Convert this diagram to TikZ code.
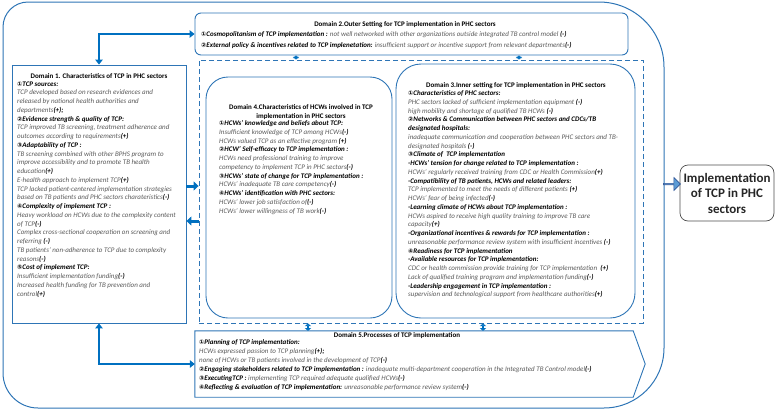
\documentclass[tikz,border=0pt]{standalone}
\usepackage{fontspec}
\setmainfont{Carlito}
\newfontfamily\circfont{DejaVu Sans}
\usetikzlibrary{arrows.meta,shapes.arrows}
\definecolor{lineblue}{HTML}{2E75B6}
\definecolor{arrblue}{HTML}{0070C0}
\definecolor{bodygray}{HTML}{595959}
\definecolor{blockfill}{HTML}{5B9BD5}
\definecolor{blockedge}{HTML}{2F5597}
\newcommand\cn[1]{{\circfont\fontsize{6.2}{6.2}\selectfont #1}}
\newcommand\hd[1]{{\color{black}\bfseries #1}}
\tikzset{
  bline/.style={draw=lineblue, line width=0.9pt},
  sqbox/.style={bline, rectangle, inner sep=0pt},
  rbox/.style={bline, rectangle, rounded corners=#1, inner sep=0pt},
  dbox/.style={draw=lineblue, line width=0.9pt, dash pattern=on 5pt off 3pt, rectangle, inner sep=0pt},
  ttl/.style={font=\fontsize{7}{8.75}\selectfont\bfseries, text=black, inner sep=0pt, align=center},
  body/.style={font=\fontsize{7}{8.75}\selectfont\itshape, text=bodygray, inner sep=0pt, align=left, anchor=north west},
  darr/.style={draw=arrblue, line width=2.2pt, {Triangle[length=5pt,width=7.5pt]}-{Triangle[length=5pt,width=7.5pt]}},
  sarr/.style={draw=arrblue, line width=1.8pt, {Triangle[length=2.6pt,width=6pt]}-{Triangle[length=2.6pt,width=6pt]}},
  harr/.style={draw=arrblue, line width=3pt, -{Triangle[length=5pt,width=9pt]}},
}
\begin{document}
\begin{tikzpicture}[x=1pt,y=-1pt]
\useasboundingbox (0,0) rectangle (777,410);
% outer frame
\draw[bline, line width=1pt] (3,27) arc[start angle=180,end angle=270,radius=25]
  -- (599,2) arc[start angle=270,end angle=360,radius=65]
  -- (664,348) arc[start angle=0,end angle=90,radius=60]
  -- (38,408) arc[start angle=90,end angle=180,radius=35] -- cycle;
% boxes
\node[rbox=6, minimum width=433pt, minimum height=42pt] (d2) at (411.5,34) {};
\node[sqbox, minimum width=174pt, minimum height=258pt] (d1) at (99,194) {};
\node[dbox, minimum width=444pt, minimum height=263pt] (dsh) at (421,191.5) {};
\node[rbox=22, minimum width=186pt, minimum height=241pt] (d4) at (299,197.5) {};
\node[rbox=25, minimum width=239pt, minimum height=254pt] (d3) at (515.5,191) {};
\node[inner sep=0pt, minimum width=438pt, minimum height=66pt] (d5) at (414,364) {};
\draw[bline] (d5.north west) -- (d5.north east) -- ([xshift=12pt]d5.east) -- (d5.south east) -- (d5.south west) -- cycle;
\node[rbox=8, minimum width=94pt, minimum height=56pt, font=\fontsize{13}{15.5}\selectfont\bfseries, align=center, text=black!85, draw=black!70, line width=0.7pt] (rb) at (727,193) {Implementation\\of TCP in PHC\\sectors};
\node[single arrow, draw=blockedge, fill=blockfill, line width=0.6pt, minimum height=17pt, minimum width=13pt, single arrow head extend=2.5pt, inner sep=0pt] (ba) at (671.5,184) {};
% connectors
\draw[darr] (d2.west) -| (d1.north);
\draw[darr] (d1.south) |- (d5.west);
\coordinate (c1) at (296,0);
\coordinate (c2) at (519,0);
\coordinate (c3) at (308,0);
\coordinate (c4) at (483,0);
\draw[sarr] (c1 |- d2.south) -- (c1 |- dsh.north);
\draw[sarr] (c2 |- d2.south) -- (c2 |- dsh.north);
\draw[sarr] (c3 |- dsh.south) -- (c3 |- d5.north);
\draw[sarr] (c4 |- dsh.south) -- (c4 |- d5.north);
\coordinate (r1) at (0,186);
\coordinate (r2) at (0,221);
\draw[harr] (d1.east |- r1) -- (dsh.west |- r1);
\draw[harr] (dsh.west |- r2) -- (d1.east |- r2);
% Domain 2 text
\node[ttl] (t2) at (405,25) {Domain 2.Outer Setting for TCP implementation in PHC sectors};
\node[body, font=\fontsize{7}{10.5}\selectfont\itshape] (b2) at (201,31.6) {\hd{\cn{①}Cosmopolitanism of TCP implementation :} not well networked with other organizations outside integrated TB control model \hd{(-)}\\
\hd{\cn{②}External policy \& incentives related to TCP implenetation:} insufficient support or incentive support from relevant departments\hd{(-)}};
% Domain 1 text
\node[ttl] (t1) at (99,76) {Domain 1. Characteristics of TCP in PHC sectors};
\node[body] (b1) at (17,81.4) {\hd{\cn{①}TCP sources:}\\
TCP developed based on research evidences and\\
released by national health authorities and\\
departments\hd{(+);}\\
\hd{\cn{②}Evidence strength \& quality of TCP:}\\
TCP improved TB screening, treatment adherence and\\
outcomes according to requirements\hd{(+)}\\
\hd{\cn{③}Adaptability of TCP :}\\
TB screening combined with other BPHS program to\\
improve accessibility and to promote TB health\\
education\hd{(+)}\\
E-health approach to implement TCP\hd{(+)}\\
TCP lacked patient-centered implementation strategies\\
based on TB patients and PHC sectors charateristics\hd{(-)}\\
\hd{\cn{④}Complexity of implement TCP :}\\
Heavy workload on HCWs due to the complexity content\\
of TCP\hd{(-)}\\
Complex cross-sectional cooperation on screening and\\
referring \hd{(-)}\\
TB patients' non-adherence to TCP due to complexity\\
reasons\hd{(-)}\\
\hd{\cn{⑤}Cost of implement TCP:}\\
Insufficient implementation funding\hd{(-)}\\
Increased health funding for TB prevention and\\
control\hd{(+)}};
% Domain 4 text
\node[ttl, anchor=north] (t4) at (301,104.4) {Domain 4.Characteristics of HCWs involved in TCP\\implementation in PHC sectors};
\node[body] (b4) at (219,120.4) {\hd{\cn{①}HCWs' knowledge and beliefs about TCP:}\\
Insufficient knowledge of TCP among HCWs\hd{(-)}\\
HCWs valued TCP as an effective program \hd{(+)}\\
\hd{\cn{②}HCW' Self-efficacy to TCP implementation :}\\
HCWs need professional training to improve\\
competency to implement TCP in PHC sectors\hd{(-)}\\
\hd{\cn{③}HCWs' state of change for TCP implementation :}\\
HCWs' inadequate TB care competency\hd{(-)}\\
\hd{\cn{④}HCWs' identification with PHC sectors:}\\
HCWs' lower job satisfaction of\hd{(-)}\\
HCWs' lower willingness of TB work\hd{(-)}};
% Domain 3 text
\node[ttl] (t3) at (516,86) {Domain 3.Inner setting for TCP implementation in PHC sectors};
\node[body] (b3) at (408,90.4) {\hd{\cn{①}Characteristics of PHC sectors:}\\
PHC sectors lacked of sufficient implementation equipment \hd{(-)}\\
high mobility and shortage of qualified TB HCWs \hd{(-)}\\
\hd{\cn{②}Networks \& Communication between PHC sectors and CDCs/TB}\\
\hd{designated hospitals:}\\
inadequate communication and cooperation between PHC sectors and TB-\\
designated hospitals \hd{(-)}\\
\hd{\cn{③}Climate of \ TCP implementation}\\
\hd{-HCWs' tension for change related to TCP implementation :}\\
HCWs' regularly received training from CDC or Health Commission\hd{(+)}\\
\hd{-Compatibility of TB patients, HCWs and related leaders:}\\
TCP implemented to meet the needs of different patients \hd{(+)}\\
HCWs' fear of being infected\hd{(-)}\\
\hd{-Learning climate of HCWs about TCP implementation :}\\
HCWs aspired to receive high quality training to improve TB care\\
capacity\hd{(+)}\\
\hd{-Organizational incentives \& rewards for TCP implementation :}\\
unreasonable performance review system with insufficient incentives \hd{(-)}\\
\hd{\cn{④}Readiness for TCP implementation}\\
\hd{-Available resources for TCP implementation:}\\
CDC or health commission provide training for TCP implementation \ \hd{(+)}\\
Lack of qualified training program and implementation funding\hd{(-)}\\
\hd{-Leadership engagement in TCP implementation :}\\
supervision and technological support from healthcare authorities\hd{(+)}};
% Domain 5 text
\node[ttl] (t5) at (397,335.5) {Domain 5.Processes of TCP implementation};
\node[body, font=\fontsize{7}{9}\selectfont\itshape] (b5) at (199,339.4) {\hd{\cn{①}Planning of TCP implementation:}\\
HCWs expressed passion to TCP planning\hd{(+);}\\
none of HCWs or TB patients involved in the development of TCP\hd{(-)}\\
\hd{\cn{②}Engaging stakeholders related to TCP implementation :} inadequate multi-department cooperation in the Integrated TB Control model\hd{(-)}\\
\hd{\cn{③}ExecutingTCP :} implementing TCP required adequate qualified HCWs\hd{(-)}\\
\hd{\cn{④}Reflecting \& evaluation of TCP implementation:} unreasonable performance review system\hd{(-)}};
\end{tikzpicture}
\end{document}
